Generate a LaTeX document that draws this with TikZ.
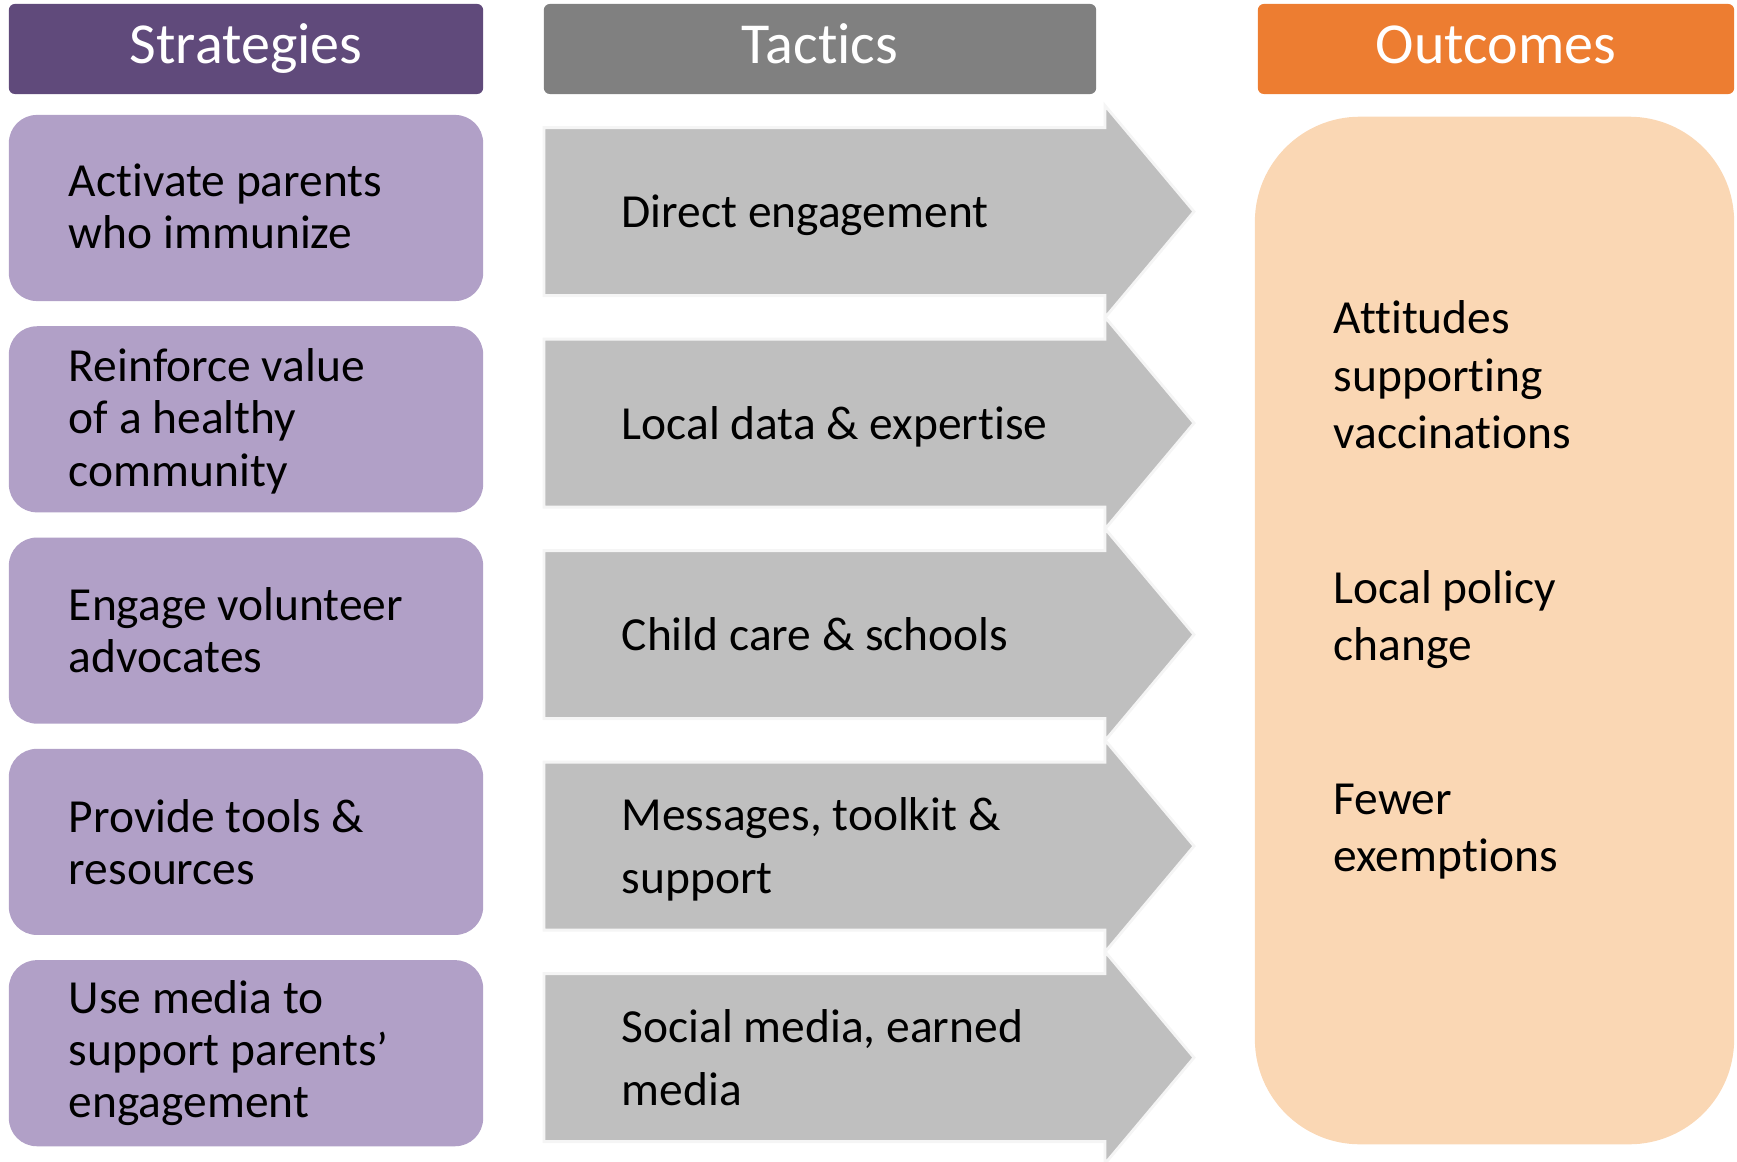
\documentclass[tikz,border=0pt]{standalone}
\usepackage{fontspec}
\setmainfont{Carlito}[RawFeature={-liga;-clig;-dlig;-calt}]
\definecolor{stratdark}{HTML}{604A7B}
\definecolor{stratlight}{HTML}{B1A0C7}
\definecolor{tacdark}{HTML}{808080}
\definecolor{taclight}{HTML}{BFBFBF}
\definecolor{outdark}{HTML}{ED7D31}
\definecolor{outlight}{HTML}{FAD7B4}
\tikzset{
	head/.style={rounded corners=0.06cm, minimum height=0.9cm, inner sep=0pt, text=white, text height=11.5pt, text depth=3.3pt, font=\fontsize{16.5}{19}\selectfont},
	stratbox/.style={fill=stratlight, rounded corners=0.28cm, minimum width=4.74cm, minimum height=1.86cm, inner sep=0pt},
	strattext/.style={anchor=west, align=left, inner sep=0pt, font=\fontsize{13.5}{14.8}\selectfont},
	tacarrow/.style={fill=taclight, draw=gray!8, line width=0.8pt},
	tactext/.style={anchor=west, align=left, inner sep=0pt, font=\fontsize{13.5}{17.9}\selectfont},
	outtext/.style={anchor=west, align=left, inner sep=0pt, font=\fontsize{13.5}{16.4}\selectfont}
}

\begin{document}
\begin{tikzpicture}[x=0.01cm,y=-0.01cm]
			\useasboundingbox (0,0) rectangle (1737,1161);
			\node (hstrat) [head, fill=stratdark, minimum width=4.74cm] at (246,49) {Strategies};
			\node (htac) [head, fill=tacdark, minimum width=5.52cm] at (820,49) {Tactics};
			\node (hout) [head, fill=outdark, minimum width=4.76cm] at (1496,49) {Outcomes};
			\node (s1) [stratbox] at (246,208) {};
			\node (s2) [stratbox] at (246,419.3) {};
			\node (s3) [stratbox] at (246,630.6) {};
			\node (s4) [stratbox] at (246,841.9) {};
			\node (s5) [stratbox] at (246,1053.2) {};
			\node (s1text) [strattext] at ([xshift=0.6cm,yshift=0.02cm]s1.west) {Activate parents\\who immunize};
			\node (s2text) [strattext] at ([xshift=0.6cm,yshift=-0.02cm]s2.west) {Reinforce value\\of a healthy\\community};
			\node (s3text) [strattext] at ([xshift=0.6cm]s3.west) {Engage volunteer\\advocates};
			\node (s4text) [strattext] at ([xshift=0.6cm]s4.west) {Provide tools \&\\resources};
			\node (s5text) [strattext] at ([xshift=0.6cm]s5.west) {Use media to\\support parents’\\engagement};
			\draw [tacarrow] (544,127.6)-- (1105,127.6)-- (1105,105.6)-- (1194,211.6)-- (1105,317.6)-- (1105,295.6)-- (544,295.6)-- cycle;
			\draw [tacarrow] (544,339.1)-- (1105,339.1)-- (1105,317.1)-- (1194,423.1)-- (1105,529.1)-- (1105,507.1)-- (544,507.1)-- cycle;
			\draw [tacarrow] (544,550.6)-- (1105,550.6)-- (1105,528.6)-- (1194,634.6)-- (1105,740.6)-- (1105,718.6)-- (544,718.6)-- cycle;
			\draw [tacarrow] (544,762.1)-- (1105,762.1)-- (1105,740.1)-- (1194,846.1)-- (1105,952.1)-- (1105,930.1)-- (544,930.1)-- cycle;
			\draw [tacarrow] (544,973.6)-- (1105,973.6)-- (1105,951.6)-- (1194,1057.6)-- (1105,1163.6)-- (1105,1141.6)-- (544,1141.6)-- cycle;
			\node (t1) [tactext] at (621,215) {Direct engagement};
			\node (t2) [tactext] at (621,426.5) {Local data \& expertise};
			\node (t3) [tactext] at (621,634.6) {Child care \& schools};
			\node (t4) [tactext] at (621,849.5) {Messages, toolkit \&\\support};
			\node (t5) [tactext] at (621,1057.6) {Social media, earned\\media};
			\node (obox) [fill=outlight, rounded corners=1.05cm, minimum width=4.79cm, minimum height=10.27cm, inner sep=0pt] at (1494.5,630.5) {};
			\node (o1) [outtext] at (1333,375) {Attitudes\\supporting\\vaccinations};
			\node (o2) [outtext] at (1333,619.5) {Local policy\\change};
			\node (o3) [outtext] at (1333,831.5) {Fewer\\exemptions};
		\end{tikzpicture}
\end{document}
